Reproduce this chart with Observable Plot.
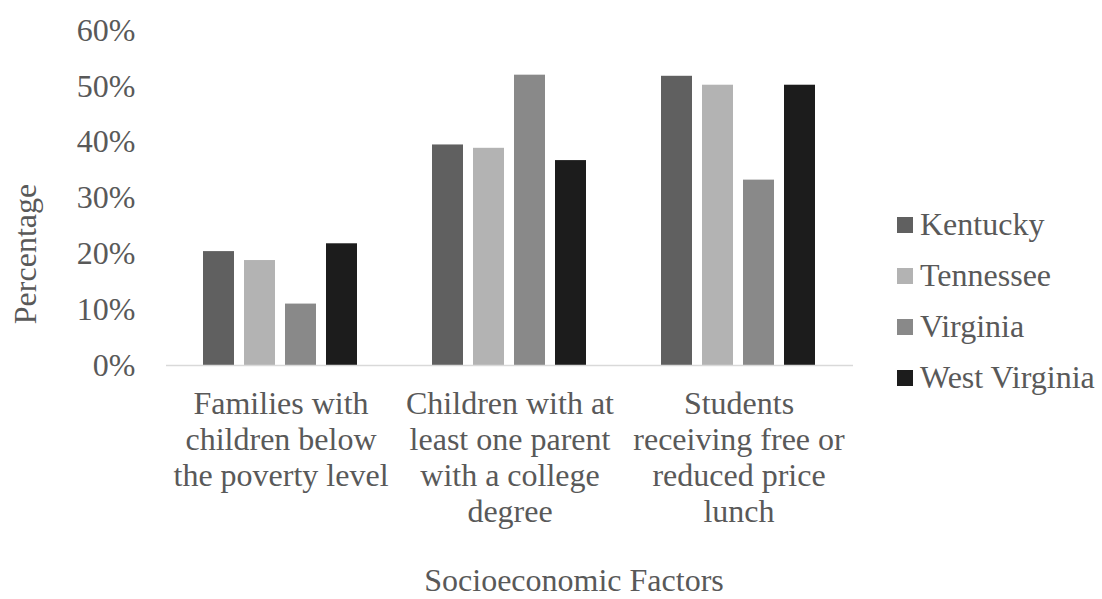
<!DOCTYPE html>
<html>
<head>
<meta charset="utf-8">
<script src="https://cdn.jsdelivr.net/npm/d3@7"></script>
<script src="https://cdn.jsdelivr.net/npm/@observablehq/plot@0.6"></script>
<style>
  html, body { margin: 0; padding: 0; background: #fff; }
  #wrap { position: relative; width: 1102px; height: 599px; font-family: "Liberation Serif", "Times New Roman", serif; color: #595959; }
  #legend { position: absolute; left: 897px; top: 199px; font-size: 32px; line-height: 51px; }
  #legend .item { display: flex; align-items: center; white-space: nowrap; }
  #legend .sw { width: 16px; height: 16px; margin-right: 7px; display: inline-block; }
  .axis-title { position: absolute; font-size: 32px; white-space: nowrap; }
  #ytitle { left: 25px; top: 254px; line-height: 32px; transform: translate(-50%, -50%) rotate(-90deg); }
  #xtitle { left: 574px; top: 567px; line-height: 26px; transform: translateX(-50%); }
</style>
</head>
<body>
<div id="wrap"></div>
<script>
// Socioeconomic factors by state (share of population)
const factors = [
  "Families with\nchildren below\nthe poverty level",
  "Children with at\nleast one parent\nwith a college\ndegree",
  "Students\nreceiving free or\nreduced price\nlunch"
];
const states = ["Kentucky", "Tennessee", "Virginia", "West Virginia"];
const kentucky = [0.204, 0.395, 0.518];
const tennessee = [0.188, 0.389, 0.502];
const virginia = [0.110, 0.520, 0.332];
const westVirginia = [0.218, 0.367, 0.502];
const stateColors = ["#606060", "#b3b3b3", "#898989", "#1c1c1c"];
const yTicks = [0, 0.1, 0.2, 0.3, 0.4, 0.5, 0.6];
const xTitle = "Socioeconomic Factors";
const yTitle = "Percentage";

const series = [kentucky, tennessee, virginia, westVirginia];
const rows = [];
factors.forEach((f, i) => {
  states.forEach((s, j) => rows.push({factor: f, state: s, value: series[j][i]}));
});

const chart = Plot.plot({
  width: 1102,
  height: 599,
  marginLeft: 165,
  marginRight: 249,
  marginTop: 30,
  marginBottom: 234,
  style: {fontFamily: "'Liberation Serif', 'Times New Roman', serif", fontSize: "32px", color: "#595959", background: "#fff", overflow: "visible"},
  fx: {domain: factors, padding: 0},
  x: {domain: states, paddingInner: 0.232, paddingOuter: 0.867, axis: null},
  y: {
    domain: [0, 0.6],
    ticks: yTicks,
    tickFormat: d3.format(".0%"),
    tickSize: 0,
    tickPadding: 31,
    label: null
  },
  color: {domain: states, range: stateColors},
  marks: [
    Plot.axisFx({
      anchor: "bottom",
      lineHeight: 1.125,
      tickSize: 0,
      tickPadding: 23,
      label: null
    }),
    Plot.barY(rows, {fx: "factor", x: "state", y: "value", fill: "state"}),
    Plot.ruleY([0], {stroke: "#d9d9d9", strokeWidth: 1.5})
  ]
});

const wrap = document.getElementById("wrap");
wrap.appendChild(chart);

// Axis titles, centred on the chart area as a whole
const yt = document.createElement("div");
yt.id = "ytitle";
yt.className = "axis-title";
yt.textContent = yTitle;
wrap.appendChild(yt);

const xt = document.createElement("div");
xt.id = "xtitle";
xt.className = "axis-title";
xt.textContent = xTitle;
wrap.appendChild(xt);

// Legend to the right of the plot
const legend = document.createElement("div");
legend.id = "legend";
states.forEach((s, i) => {
  const item = document.createElement("div");
  item.className = "item";
  const sw = document.createElement("span");
  sw.className = "sw";
  sw.style.background = stateColors[i];
  const label = document.createElement("span");
  label.textContent = s;
  item.appendChild(sw);
  item.appendChild(label);
  legend.appendChild(item);
});
wrap.appendChild(legend);
</script>
</body>
</html>
